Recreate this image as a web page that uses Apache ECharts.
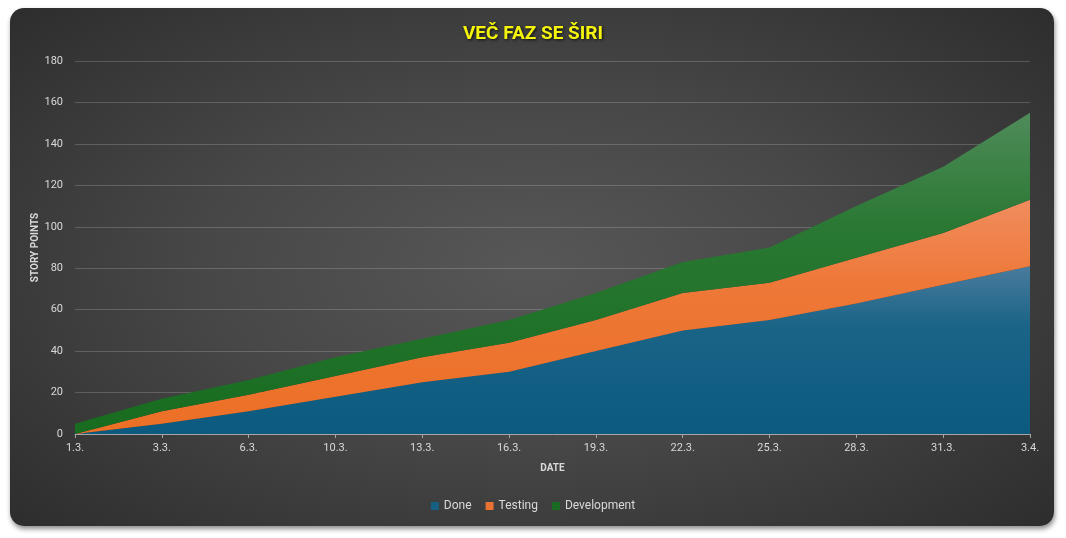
<!DOCTYPE html>
<html>
<head>
<meta charset="utf-8">
<script src="https://cdn.jsdelivr.net/npm/echarts@6/dist/echarts.min.js"></script>
<style>
  html, body { margin: 0; padding: 0; background: #ffffff; }
  #card {
    position: absolute; left: 10px; top: 8px; width: 1044px; height: 518px;
    border-radius: 14px;
    background: radial-gradient(ellipse 70% 75% at 50% 50%, #575757 0%, #474747 45%, #2c2c2c 100%);
    box-shadow: 1px 3px 5px rgba(0,0,0,0.45);
  }
  #chart { position: absolute; left: 0; top: 0; width: 1066px; height: 538px; }
</style>
</head>
<body>
<div id="card"></div>
<div id="chart"></div>
<script>
const dates = ['1.3.', '3.3.', '6.3.', '10.3.', '13.3.', '16.3.', '19.3.', '22.3.', '25.3.', '28.3.', '31.3.', '3.4.'];
const done = [0, 5, 11, 18, 25, 30, 40, 50, 55, 63, 72, 81];
const testing = [0, 6, 8, 10, 12, 14, 15, 18, 18, 22, 25, 32];
const development = [5, 6, 7, 9, 9, 11, 13, 15, 17, 25, 32, 42];

const font = '"Roboto", sans-serif';

const grad = (top, mid, bottom) => new echarts.graphic.LinearGradient(0, 0, 0, 1, [
    { offset: 0, color: top },
    { offset: 0.35, color: mid },
    { offset: 1, color: bottom }
]);

const chart = echarts.init(document.getElementById('chart'));

const areaSeries = (name, data, color, fill) => ({
    name: name,
    type: 'line',
    stack: 'total',
    data: data,
    symbol: 'none',
    lineStyle: { width: 0 },
    itemStyle: { color: color },
    areaStyle: { color: fill, opacity: 1 },
    emphasis: { disabled: true }
});

chart.setOption({
    backgroundColor: 'transparent',
    animation: false,
    title: {
        text: 'VEČ FAZ SE ŠIRI',
        left: 'center',
        top: 20,
        textStyle: {
            color: '#f5f50c',
            fontSize: 19,
            fontWeight: 'bold',
            fontFamily: font,
            textShadowColor: 'rgba(0,0,0,0.8)',
            textShadowBlur: 3,
            textShadowOffsetX: 1,
            textShadowOffsetY: 1
        }
    },
    grid: { left: 75, right: 36, top: 61, bottom: 104 },
    legend: {
        bottom: 21,
        left: 'center',
        itemWidth: 8,
        itemHeight: 8,
        itemGap: 14,
        icon: 'rect',
        textStyle: { color: '#d9d9d9', fontSize: 12, fontFamily: font },
        data: ['Done', 'Testing', 'Development']
    },
    xAxis: {
        type: 'category',
        data: dates,
        boundaryGap: false,
        name: 'DATE',
        nameLocation: 'middle',
        nameGap: 29,
        nameMoveOverlap: false,
        nameTextStyle: { color: '#d9d9d9', fontSize: 10, fontWeight: 'bold', fontFamily: font },
        axisLine: { lineStyle: { color: '#a6a6a6', width: 1 } },
        axisTick: { show: true, length: 4, lineStyle: { color: '#a6a6a6' } },
        axisLabel: { color: '#d9d9d9', fontSize: 11, margin: 9, fontFamily: font },
        splitLine: { show: false }
    },
    yAxis: {
        type: 'value',
        min: 0,
        max: 180,
        interval: 20,
        name: 'STORY POINTS',
        nameLocation: 'middle',
        nameGap: 35,
        nameMoveOverlap: false,
        nameTextStyle: { color: '#d9d9d9', fontSize: 10, fontWeight: 'bold', fontFamily: font },
        axisLine: { show: false },
        axisTick: { show: false },
        axisLabel: { color: '#d9d9d9', fontSize: 11, margin: 12, fontFamily: font },
        splitLine: { lineStyle: { color: 'rgba(255,255,255,0.18)', width: 1 } }
    },
    series: [
        areaSeries('Done', done, '#156082', grad('#4a7b9d', '#1a6487', '#0c5a80')),
        areaSeries('Testing', testing, '#e97132', grad('#f08d5e', '#ee7838', '#ec6f25')),
        areaSeries('Development', development, '#196b24', grad('#4f8b5a', '#2a7833', '#176c1f'))
    ]
});
</script>
</body>
</html>
